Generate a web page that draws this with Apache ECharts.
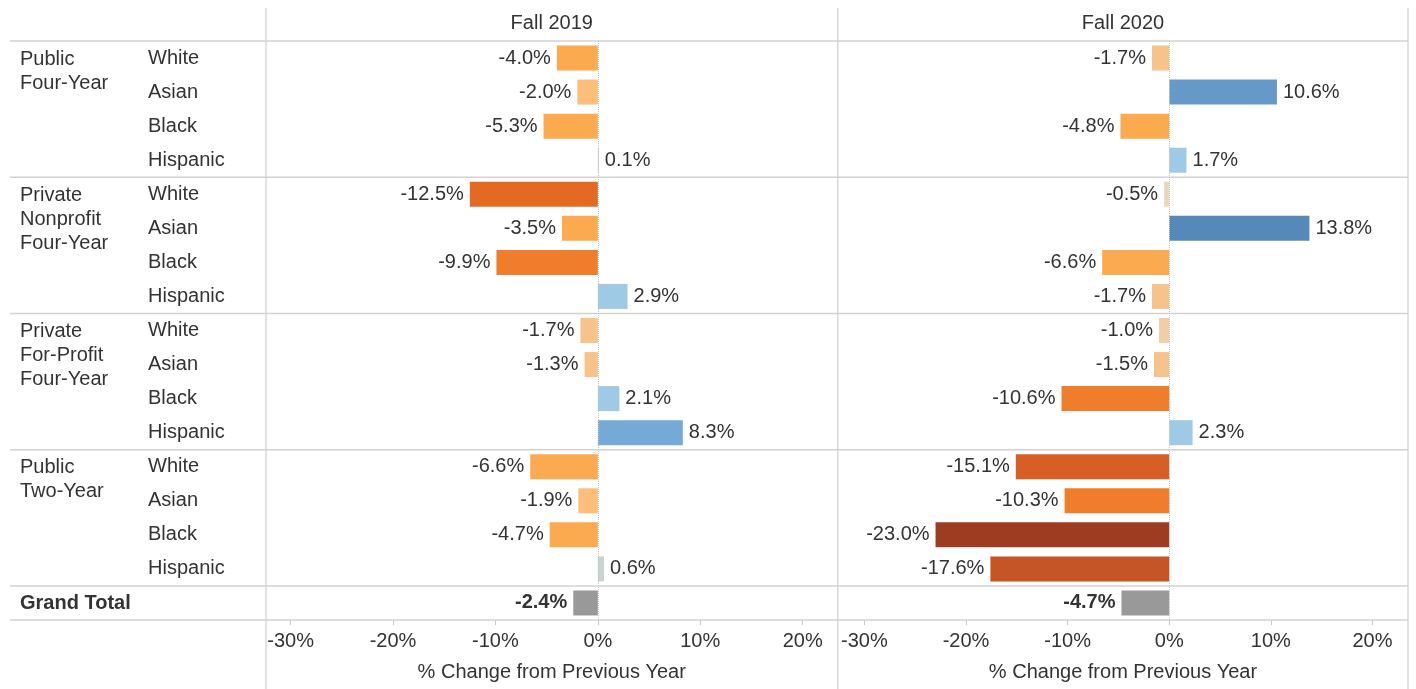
<!DOCTYPE html>
<html>
<head>
<meta charset="utf-8">
<script src="https://cdn.jsdelivr.net/npm/echarts@6/dist/echarts.min.js"></script>
<style>
html,body{margin:0;padding:0;background:#fff;}
#chart{width:1416px;height:689px;}
</style>
</head>
<body>
<div id="chart"></div>
<script>
// ---- data ----
const sectors = ['Public\nFour-Year', 'Private\nNonprofit\nFour-Year', 'Private\nFor-Profit\nFour-Year', 'Public\nTwo-Year'];
const races = ['White', 'Asian', 'Black', 'Hispanic'];
const panelTitles = ['Fall 2019', 'Fall 2020'];
const fall2019 = [-4.0, -2.0, -5.3, 0.1, -12.5, -3.5, -9.9, 2.9, -1.7, -1.3, 2.1, 8.3, -6.6, -1.9, -4.7, 0.6];
const fall2020 = [-1.7, 10.6, -4.8, 1.7, -0.5, 13.8, -6.6, -1.7, -1.0, -1.5, -10.6, 2.3, -15.1, -10.3, -23.0, -17.6];
const grandTotal = [-2.4, -4.7];
const grandTotalLabel = 'Grand Total';
const tickValues = [-30, -20, -10, 0, 10, 20];
const axisTitle = '% Change from Previous Year';

// ---- build ----
const FONT = '"Liberation Sans", Arial, Helvetica, sans-serif';
const FS = 20;
const TXT = '#333333';
const LINE = '#d2d2d2';

const keys = [];
const rowRace = [];
sectors.forEach((s, si) => races.forEach(r => { keys.push(si + '|' + r); rowRace.push(r); }));
keys.push('GT');
rowRace.push('');

function colorFor(v) {
  if (v <= -20) return '#9e3c22';
  if (v <= -16) return '#c55427';
  if (v <= -14) return '#d75e25';
  if (v <= -12) return '#e46a24';
  if (v <= -9) return '#ef7d2b';
  if (v <= -3) return '#fcaa4f';
  if (v <= -1.8) return '#fcbe78';
  if (v <= -1.2) return '#f6c48a';
  if (v <= -0.8) return '#f1cfa5';
  if (v < 0) return '#ead7bb';
  if (v < 1) return '#c8d3d0';
  if (v < 5) return '#9ecae5';
  if (v < 9) return '#74aad5';
  if (v < 12) return '#6499c8';
  return '#5589b9';
}

function buildData(vals, total) {
  const out = vals.map(v => ({
    value: v,
    itemStyle: { color: colorFor(v) },
    label: { position: v < 0 ? 'left' : 'right' }
  }));
  out.push({
    value: total,
    itemStyle: { color: '#999999' },
    label: { position: total < 0 ? 'left' : 'right', fontWeight: 'bold' }
  });
  return out;
}

const grids = [
  { left: 266, width: 571.5, top: 41, bottom: 69 },
  { left: 838, width: 570, top: 41, bottom: 69 }
];
const ranges = [[-32.4, 23.4], [-32.6, 23.5]];

const chart = echarts.init(document.getElementById('chart'), null, { renderer: 'canvas' });

const option = {
  backgroundColor: '#ffffff',
  animation: false,
  textStyle: { fontFamily: FONT },
  grid: grids,
  xAxis: [0, 1].map(i => ({
    type: 'value',
    gridIndex: i,
    min: ranges[i][0],
    max: ranges[i][1],
    position: 'bottom',
    axisLine: { show: false },
    splitLine: { show: false },
    axisTick: { show: true, customValues: tickValues, length: 5, lineStyle: { color: '#c8c8c8', width: 1 } },
    axisLabel: { show: true, customValues: tickValues, formatter: v => v + '%', fontSize: FS, color: TXT, fontFamily: FONT, margin: 11 },
    name: axisTitle,
    nameLocation: 'middle',
    nameGap: 42,
    nameTextStyle: { fontSize: FS, color: TXT, fontFamily: FONT }
  })),
  yAxis: [0, 1].map(i => ({
    type: 'category',
    gridIndex: i,
    data: keys,
    inverse: true,
    axisLine: { show: false },
    axisTick: { show: false },
    splitLine: { show: false },
    axisLabel: {
      show: i === 0,
      interval: 0,
      align: 'left',
      margin: 118,
      fontSize: FS,
      color: TXT,
      fontFamily: FONT,
      padding: [2, 0, 0, 0],
      formatter: (v, idx) => rowRace[idx]
    }
  })),
  series: [[fall2019, grandTotal[0]], [fall2020, grandTotal[1]]].map((d, i) => ({
    type: 'bar',
    xAxisIndex: i,
    yAxisIndex: i,
    barWidth: 25,
    data: buildData(d[0], d[1]),
    label: {
      show: true,
      distance: 6,
      fontSize: FS,
      color: TXT,
      fontFamily: FONT,
      formatter: p => p.value.toFixed(1) + '%'
    },
    markLine: {
      silent: true,
      symbol: 'none',
      label: { show: false },
      lineStyle: { type: 'dotted', color: '#c4c4c4', width: 1 },
      data: [{ xAxis: 0 }]
    },
    z: 3
  }))
};
chart.setOption(option);

// ---- table decorations (positions derived from the axes) ----
const py = i => chart.convertToPixel({ yAxisIndex: 0 }, keys[i]);
const step = py(1) - py(0);
const graphics = [];
const xLeft = 10, xRight = grids[1].left + grids[1].width;
const hBoundaries = [0, 4, 8, 12, 16].map(i => py(i) - step / 2);
hBoundaries.push(py(16) + step / 2);
hBoundaries.forEach(y => {
  graphics.push({ type: 'line', silent: true, z: 1,
    shape: { x1: xLeft, y1: y, x2: xRight, y2: y },
    style: { stroke: LINE, lineWidth: 1.5 } });
});
[grids[0].left, grids[1].left - 0.25, xRight].forEach(x => {
  graphics.push({ type: 'line', silent: true, z: 1,
    shape: { x1: x, y1: 8, x2: x, y2: 689 },
    style: { stroke: '#cfcfcf', lineWidth: 1.2 } });
});
// panel titles
[0, 1].forEach(i => {
  const cx = grids[i].left + grids[i].width / 2;
  graphics.push({ type: 'text', silent: true,
    x: cx, y: 23,
    style: { text: panelTitles[i], fill: TXT, font: FS + 'px ' + FONT, align: 'center', verticalAlign: 'middle' } });
});
// sector labels
sectors.forEach((s, si) => {
  const y = py(si * 4);
  graphics.push({ type: 'text', silent: true,
    x: 20, y: y - 11,
    style: { text: s, fill: TXT, font: FS + 'px ' + FONT, lineHeight: 24, align: 'left', verticalAlign: 'top' } });
});
graphics.push({ type: 'text', silent: true,
  x: 20, y: py(16) + 1,
  style: { text: grandTotalLabel, fill: TXT, font: 'bold ' + FS + 'px ' + FONT, align: 'left', verticalAlign: 'middle' } });

chart.setOption({ graphic: graphics });
</script>
</body>
</html>
